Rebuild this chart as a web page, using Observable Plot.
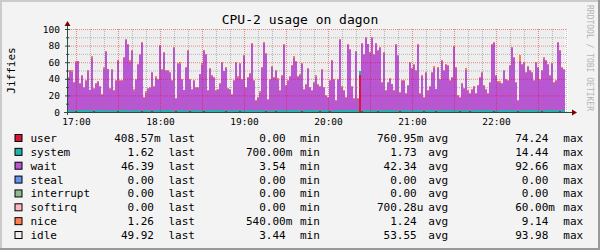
<!DOCTYPE html>
<html><head><meta charset="utf-8">
<script src="https://cdn.jsdelivr.net/npm/d3@7"></script>
<script src="https://cdn.jsdelivr.net/npm/@observablehq/plot@0.6"></script>
<style>
html,body{margin:0;padding:0;background:#f3f3f3;}
#wrap{position:relative;width:600px;height:250px;background:#f3f3f3;overflow:hidden;}
#wrap svg{position:absolute;left:0;top:0;}
</style></head><body><div id="wrap"></div>
<script>
const title = "CPU-2 usage on dagon";
const yLabel = "Jiffies";
const watermark = "RRDTOOL / TOBI OETIKER";
const day = "2024-01-01";
const startTime = "16:53:34";
const stepSeconds = 85.7;
const spanSeconds = 21429;
const xTickLabels = ["17:00","18:00","19:00","20:00","21:00","22:00"];
const yTickLabels = [0,20,40,60,80,100];

const seriesNames  = ["user","system","wait","steal","interrupt","softirq","nice","idle"];
const seriesColors = ["#dc143c","#20b2aa","#ba55d3","#6495ed","#8fbc8f","#ffb6c1","#ff7f50","#eeeeee"];
const statLabels = ["last","min","avg","max"];
const col1 = ["408.57m","1.62","46.39","0.00","0.00","0.00","1.26","49.92"];
const col2 = ["0.00","700.00m","3.54","0.00","0.00","0.00","540.00m","3.44"];
const col3 = ["760.95m","1.73","42.34","0.00","0.00","700.28u","1.24","53.55"];
const col4 = ["74.24","14.44","92.66","0.00","0.00","60.00m","9.14","93.98"];

const user = [
.4,.6,.3,.5,.7,.4,.3,.5,.6,.4, .3,.5,.4,.7,.5,.3,.4,.6,.5,.4, .6,.4,.3,.5,.4,.7,.6,.3,.4,.5,
.5,.3,.6,.4,.5,.4,.3,.7,.5,.6, .4,.5,.7,.3,.4,.6,.5,.4,.3,.5, .6,.4,.5,.3,.7,.4,.5,.6,.4,.3,
.5,.7,.4,.5,.3,.4,.6,.5,.7,.4, .3,.4,.5,.6,.4,.5,.3,.4,.6,.7, .5,.4,.3,.5,.6,.4,.7,.5,.4,.3,
.4,.6,.5,.3,.4,.5,.6,.4,.5,.7, .6,.3,.4,.5,.7,.4,.3,.6,.5,.4, .5,.4,.6,.4,.3,.5,.4,.7,.6,.5,
.3,.5,.4,.6,.5,.3,.7,.4,.5,.4, .4,.7,.5,.3,.4,.6,.5,.4,.3,.6, .5,.4,.3,.6,.5,.4,44,.7,.5,.4,
.6,.5,.4,.3,.5,.7,.4,.5,.6,.3, .4,.5,.6,.4,.3,.5,.7,.4,.5,.6, .5,.3,.4,.6,.5,.4,.3,.5,.7,.4,
.4,.6,.5,.4,.7,.3,.5,.4,.6,.5, .3,.4,.6,.5,.4,.5,.7,.3,.4,.6, .5,.7,.4,.3,.6,.4,.5,.6,.3,.4,
.6,.4,.5,.7,.4,.3,.5,.4,.6,.5, .4,.5,.3,.4,.6,.7,.4,.5,.3,.4, .5,.4,.6,.5,.3,.4,.5,.7,.4,.6,
.3,.5,.4,.6,.5,.4,.7,.5,.4];
const system = [
1.6,1.8,1.4,2.0,1.7,1.5,1.9,1.6,1.3,1.8, 2.1,1.5,1.7,1.4,1.9,1.6,2.2,1.5,1.8,1.4,
1.7,1.9,1.5,1.6,2.0,1.4,1.8,1.7,1.5,2.1, 1.6,1.4,1.8,1.9,1.5,1.7,1.3,2.0,1.6,1.8,
1.5,2.2,1.7,1.4,1.8,1.6,1.9,1.5,1.7,2.0, 1.4,1.6,1.8,1.5,2.1,1.7,1.4,1.9,1.6,1.5,
1.8,1.5,1.7,2.0,1.6,1.4,1.8,1.7,2.2,1.5, 1.6,1.9,1.4,1.7,1.5,1.8,2.0,1.6,1.4,1.7,
1.9,1.6,1.5,1.8,1.7,2.1,1.5,1.6,1.9,1.4, 1.7,1.5,1.9,1.6,1.4,1.8,1.7,2.0,1.5,1.6,
1.8,1.4,1.6,1.9,1.7,1.5,2.2,1.6,1.8,1.5, 1.6,1.7,1.5,1.8,2.0,1.4,1.7,1.9,1.5,1.6,
2.1,1.5,1.8,1.6,1.4,1.7,1.9,1.5,1.6,1.8, 1.5,1.9,1.7,1.4,1.8,1.6,1.5,2.0,1.7,1.6,
1.7,1.5,1.9,1.6,2.4,1.8,6.0,2.2,1.6,1.5, 1.8,1.6,1.4,1.7,1.9,1.5,1.8,1.6,2.0,1.7,
1.5,1.8,1.6,1.9,1.4,1.7,1.5,2.1,1.6,1.8, 1.7,1.4,1.9,1.5,1.8,1.6,2.0,1.5,1.7,1.6,
1.6,2.0,1.5,1.7,1.6,1.9,1.4,1.8,1.5,1.7, 1.9,1.6,1.8,1.4,1.7,1.5,1.6,2.2,1.8,1.5,
1.6,1.7,1.5,1.9,1.6,1.8,1.4,1.7,2.0,1.6, 1.8,1.5,1.7,1.6,2.1,1.4,1.9,1.6,1.5,1.8,
1.5,1.9,1.6,1.8,1.5,1.7,2.0,1.6,1.9,1.7, 2.2,1.6,1.8,1.5,1.7,1.9,1.6,2.1,1.8,1.6,
1.7,1.5,1.9,1.6,1.8,1.5,1.7,1.6,1.8];
const wait = [
39,47,47,33,57,59,31,41,27,35, 47,24,63,26,31,34,27,18,49,71, 49,25,49,23,35,59,35,35,63,84,
79,59,71,23,37,55,67,80,15,21, 26,26,44,28,39,36,77,49,69,47, 47,45,35,75,13,56,56,36,24,51,
71,36,24,35,27,27,43,55,71,67, 23,49,41,39,23,24,31,57,47,51, 25,24,19,35,57,39,56,37,65,27,
39,44,79,35,11,15,21,51,81,67, 12,37,52,39,47,37,23,41,79,29, 35,40,53,63,58,40,43,
55,24,31,49,27,23,33,40,31,27, 49,27,17,15,35,59,37,11,36,85, 27,23,15,79,73,28,13,69,13,0,
79,67,87,79,69,87,67,79,71,75, 33,69,23,33,37,31,23,79,65,21, 35,35,19,29,57,49,55,47,79,19,
41,15,45,23,27,45,51,25,51,37, 59,47,55,53,35,39,77,51,17,15, 31,25,49,23,19,25,28,19,29,39,
45,29,25,19,33,79,81,41,35,33, 32,47,36,35,53,75,63,33,11,59, 55,57,45,51,47,45,35,57,51,37,
47,62,59,55,41,55,33,35,81,71, 51,49];
const nice = [
1.2,1.0,1.4,0.9,1.6,1.1,1.3,2.0,1.0,1.2, 1.4,0.9,1.8,1.1,1.3,1.0,1.5,1.2,2.4,1.0,
1.1,1.3,1.6,0.9,1.2,1.0,1.4,1.1,1.7,1.3, 1.0,1.5,1.2,1.9,0.9,1.3,1.1,1.6,1.0,1.4,
1.2,1.0,1.3,1.1,2.2,1.2,1.0,1.5,1.3,0.9, 1.6,1.1,1.2,1.4,1.0,1.3,1.8,1.1,0.9,1.2,
1.3,1.0,1.5,1.2,1.1,1.4,0.9,1.7,1.2,1.0, 1.1,2.1,1.3,1.0,1.2,1.6,1.1,1.4,1.0,1.3,
1.5,1.2,1.0,1.3,1.1,1.9,1.2,1.0,1.4,1.1, 1.0,1.3,1.7,1.1,1.2,1.0,1.5,1.3,1.1,2.0,
1.2,1.1,1.4,1.0,1.3,1.6,1.1,1.2,0.9,1.4, 1.3,1.0,1.2,1.8,1.1,1.3,1.0,1.5,1.2,1.1,
1.1,1.4,1.0,1.2,2.3,1.1,1.3,1.0,1.6,1.2, 1.4,1.1,1.3,1.0,1.2,1.5,1.1,1.9,1.0,1.3,
1.2,1.0,1.5,1.1,1.3,1.2,0,1.4,1.1,1.6, 1.0,1.3,1.2,1.1,1.7,1.0,1.4,1.2,1.1,1.3,
1.5,1.1,1.0,1.3,1.2,2.0,1.1,1.4,1.0,1.2, 1.3,1.2,1.6,1.0,1.1,1.3,1.5,1.2,1.0,1.4,
1.1,1.4,1.2,1.8,1.0,1.2,1.3,1.1,1.6,1.0, 1.2,1.0,1.3,1.1,1.5,1.4,1.0,1.2,1.3,2.2,
1.0,1.2,1.4,1.1,1.3,1.0,1.6,1.2,1.1,1.3, 1.4,1.1,1.0,1.3,1.2,1.1,1.5,1.0,1.2,1.4,
1.1,1.3,1.2,1.0,1.4,1.2,7.0,1.3,1.1,1.0, 1.6,1.2,1.1,1.3,1.0,1.4,1.2,1.1,1.5,1.3,
1.2,1.0,1.4,1.1,1.3,1.2,1.0,1.5,1.1];

// ---- build table ----
const t0 = new Date(`${day}T${startTime}Z`);
const tEnd = new Date(+t0 + spanSeconds * 1000);
const n = wait.length;
const rows = [];
const tAt = i => new Date(+t0 + i * stepSeconds * 1000);
function pushRow(t, i) {
  const parts = {user: user[i], system: system[i], wait: wait[i], nice: nice[i]};
  const busy = parts.user + parts.system + parts.wait + parts.nice;
  for (const k of ["user","system","wait","nice"]) rows.push({t, s: k, v: parts[k]});
  rows.push({t, s: "idle", v: 100 - busy});
}
for (let i = 0; i < n; i++) pushRow(tAt(i), i);
pushRow(tAt(n), n - 1); // close the last step

const xLabelDates = xTickLabels.map(s => new Date(`${day}T${s}:00Z`));
const xMajor = d3.utcMinute.every(30).range(t0, tEnd);
const xMinor = d3.utcMinute.every(10).range(t0, tEnd).filter(d => d.getUTCMinutes() % 30 !== 0);
const yMajor = yTickLabels.filter(v => v > 0);
const yMinor = d3.range(yTickLabels[0] + 10, yTickLabels[yTickLabels.length - 1], 20);

const chart = Plot.plot({
  width: 600, height: 130,
  marginLeft: 67, marginRight: 33, marginTop: 29, marginBottom: 18,
  x: {type: "utc", domain: [t0, tEnd]},
  y: {domain: [0, 100]},
  color: {domain: seriesNames, range: seriesColors},
  style: {background: "transparent", fontFamily: "'DejaVu Sans Mono', monospace", fontSize: "9.5px", color: "#000", overflow: "visible"},
  marks: [
    Plot.frame({fill: "#ffffff", stroke: "none"}),
    Plot.areaY(rows, {x: "t", y: "v", z: "s", fill: "s", curve: "step-after", order: seriesNames, shapeRendering: "crispEdges"}),
    Plot.ruleY(yMinor, {stroke: "#808080", strokeOpacity: 0.5, strokeDasharray: "1,1"}),
    Plot.ruleX(xMinor, {stroke: "#808080", strokeOpacity: 0.5, strokeDasharray: "1,1"}),
    Plot.ruleY(yMajor, {stroke: "#d81010", strokeOpacity: 0.45, strokeDasharray: "1,1"}),
    Plot.ruleX(xMajor, {stroke: "#d81010", strokeOpacity: 0.45, strokeDasharray: "1,1"}),
    Plot.axisY({ticks: yTickLabels, tickSize: 0, tickPadding: 7.5, label: null}),
    Plot.axisX({ticks: xLabelDates, tickFormat: d3.utcFormat("%H:%M"), tickSize: 0, tickPadding: 6, label: null})
  ]
});
const wrap = document.getElementById("wrap");
wrap.appendChild(chart);

// ---- overlay: axes decorations, title, legend, frame ----
const X = chart.scale("x"), Y = chart.scale("y");
const x0 = X.apply(t0), x1 = X.apply(tEnd), y0 = Y.apply(0), yTop = Y.apply(100);
const svg = d3.create("svg").attr("width", 600).attr("height", 250)
  .style("font-family", "'DejaVu Sans Mono', monospace");
const axisColor = "#2c4d43", arrowColor = "#800000";
const g = svg.append("g");
g.append("line").attr("x1", x0 + .5).attr("x2", x0 + .5).attr("y1", y0 + 3).attr("y2", yTop - 4).attr("stroke", axisColor);
g.append("line").attr("x1", x0 - 3).attr("x2", x1 + 5).attr("y1", y0 + .5).attr("y2", y0 + .5).attr("stroke", axisColor);
for (const v of yTickLabels) g.append("line").attr("x1", x0 - 2).attr("x2", x0 + 3).attr("y1", Y.apply(v) + .5).attr("y2", Y.apply(v) + .5).attr("stroke", axisColor);
for (const v of yMinor) g.append("line").attr("x1", x0 - 1).attr("x2", x0 + 2).attr("y1", Y.apply(v) + .5).attr("y2", Y.apply(v) + .5).attr("stroke", axisColor);
g.append("path").attr("d", `M${x0 - 2.5},${yTop - 3}L${x0 + 3.5},${yTop - 3}L${x0 + .5},${yTop - 8}Z`).attr("fill", arrowColor);
g.append("path").attr("d", `M${x1 + 5},${y0 - 2.5}L${x1 + 5},${y0 + 3.5}L${x1 + 10},${y0 + .5}Z`).attr("fill", arrowColor);

svg.append("text").attr("x", 300).attr("y", 24).attr("text-anchor", "middle").attr("font-size", 13).attr("fill", "#000").text(title);
svg.append("text").attr("transform", `translate(15,${(y0 + yTop) / 2}) rotate(-90)`).attr("text-anchor", "middle").attr("font-size", 11).attr("fill", "#000").text(yLabel);
svg.append("text").attr("transform", `translate(587,5) rotate(90)`).attr("font-size", 8).attr("fill", "#b4b4b4").text(watermark);

const legendTop = 134, rowStep = 13.86;
const colX = {name: 30.5, v: [154, 285.7, 416.7, 548.3], lab: [168.5, 300, 428.3, 563.3]};
const cols = [col1, col2, col3, col4];
seriesNames.forEach((name, i) => {
  const top = legendTop + i * rowStep, base = top + 8;
  svg.append("rect").attr("x", 15).attr("y", top + .5).attr("width", 7).attr("height", 7)
    .attr("fill", seriesColors[i]).attr("stroke", "#000");
  const row = svg.append("g").attr("font-size", 11).attr("fill", "#000");
  row.append("text").attr("x", colX.name).attr("y", base).text(name);
  cols.forEach((col, j) => {
    const m = col[i].match(/^([\d.]+)(\D?)$/);
    row.append("text").attr("x", colX.v[j]).attr("y", base).attr("text-anchor", "end").text(m[1]);
    if (m[2]) row.append("text").attr("x", colX.v[j]).attr("y", base).text(m[2]);
    row.append("text").attr("x", colX.lab[j]).attr("y", base).text(statLabels[j]);
  });
});
svg.append("rect").attr("x", 0).attr("y", 0).attr("width", 600).attr("height", 2).attr("fill", "#cbcbcb");
svg.append("rect").attr("x", 0).attr("y", 0).attr("width", 2).attr("height", 250).attr("fill", "#cbcbcb");
svg.append("rect").attr("x", 598).attr("y", 0).attr("width", 2).attr("height", 250).attr("fill", "#999");
svg.append("rect").attr("x", 0).attr("y", 248).attr("width", 600).attr("height", 2).attr("fill", "#999");
wrap.appendChild(svg.node());
</script></body></html>
